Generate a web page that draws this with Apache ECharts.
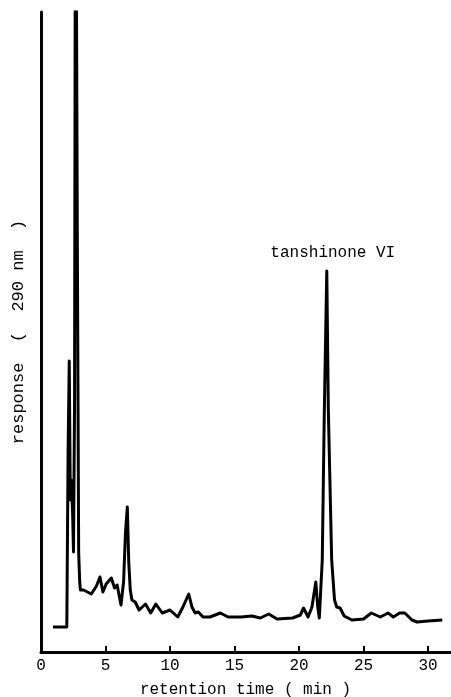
<!DOCTYPE html>
<html>
<head>
<meta charset="utf-8">
<script src="https://cdn.jsdelivr.net/npm/echarts@6/dist/echarts.min.js"></script>
<style>
  html, body { margin: 0; padding: 0; background: #fff; }
  #chart { width: 451px; height: 697px; }
</style>
</head>
<body>
<div id="chart"></div>
<script>
// retention time (min) and detector response (arbitrary units)
const retentionTime = [
  0.93, 2.0, 2.1, 2.19, 2.27, 2.35, 2.45, 2.52, 2.6, 2.68, 2.82, 2.92, 3.0, 3.06,
  3.3, 3.6, 3.9, 4.1, 4.3, 4.57, 4.8, 5.05, 5.45, 5.7, 5.9, 6.2, 6.4, 6.55, 6.69,
  6.8, 6.92, 7.05, 7.3, 7.6, 8.1, 8.5, 8.9, 9.4, 10.0, 10.6, 11.0, 11.45, 11.7,
  11.95, 12.2, 12.55, 13.1, 13.9, 14.5, 15.5, 16.35, 17.0, 17.65, 18.3, 19.5,
  20.1, 20.35, 20.7, 21.0, 21.3, 21.45, 21.57, 21.8, 21.96, 22.15, 22.27, 22.53,
  22.75, 22.92, 23.18, 23.5, 24.1, 25.0, 25.6, 26.3, 26.9, 27.3, 27.8, 28.2,
  28.75, 29.15, 30.0, 31.1
];
const response = [
  25, 25, 200, 291, 152, 172, 139, 100, 250, 900, 400, 99, 70, 62,
  62, 60, 58, 62, 66, 75, 60, 68, 74, 64, 67, 47, 70, 120, 145,
  90, 62, 52, 50, 42, 48, 39, 48, 39, 42, 35, 45, 58, 45,
  39, 40, 35, 35, 39, 35, 35, 36, 34, 38, 33, 34,
  37, 44, 35, 45, 70, 45, 34, 92, 242, 381, 242, 92,
  52, 45, 44, 36, 32, 33, 39, 35, 39, 35, 39, 39,
  32, 30, 31, 32
];
const xTicks = [0, 5, 10, 15, 20, 25, 30];
const peakLabel = 'tanshinone VI';
const peakTime = 22.15;
const peakResponse = 381;

const font = '"Liberation Mono", "DejaVu Sans Mono", monospace';
const chart = echarts.init(document.getElementById('chart'));

chart.setOption({
  animation: false,
  backgroundColor: '#fff',
  grid: { left: 41, right: 1, top: 12, bottom: 45, outerBoundsMode: 'none' },
  xAxis: {
    type: 'value',
    min: 0,
    max: 31.7,
    name: 'retention time ( min )',
    nameLocation: 'middle',
    nameGap: 30,
    nameTextStyle: { fontFamily: font, fontSize: 16, color: '#000' },
    axisLine: { lineStyle: { color: '#000', width: 3 } },
    axisTick: {
      inside: true,
      length: 6,
      customValues: xTicks,
      lineStyle: { color: '#000', width: 2 },
    },
    axisLabel: {
      customValues: xTicks,
      margin: 6,
      fontFamily: font,
      fontSize: 16,
      color: '#000',
    },
    splitLine: { show: false },
  },
  yAxis: {
    type: 'value',
    min: 0,
    max: 640,
    name: 'response  (  290 nm  )',
    nameLocation: 'middle',
    nameGap: 14,
    nameTextStyle: { fontFamily: font, fontSize: 17, color: '#000' },
    axisLine: { show: true, lineStyle: { color: '#000', width: 3 } },
    axisTick: { show: false },
    axisLabel: { show: false },
    splitLine: { show: false },
  },
  series: [
    {
      type: 'line',
      data: retentionTime.map((t, i) => [t, response[i]]),
      showSymbol: false,
      clip: true,
      lineStyle: { color: '#000', width: 3, join: 'round' },
      markPoint: {
        symbol: 'circle',
        symbolSize: 0,
        data: [{ coord: [peakTime, peakResponse] }],
        label: {
          show: true,
          position: 'top',
          distance: 10,
          offset: [6, 0],
          formatter: peakLabel,
          fontFamily: font,
          fontSize: 16,
          color: '#000',
        },
      },
    },
  ],
});
</script>
</body>
</html>
